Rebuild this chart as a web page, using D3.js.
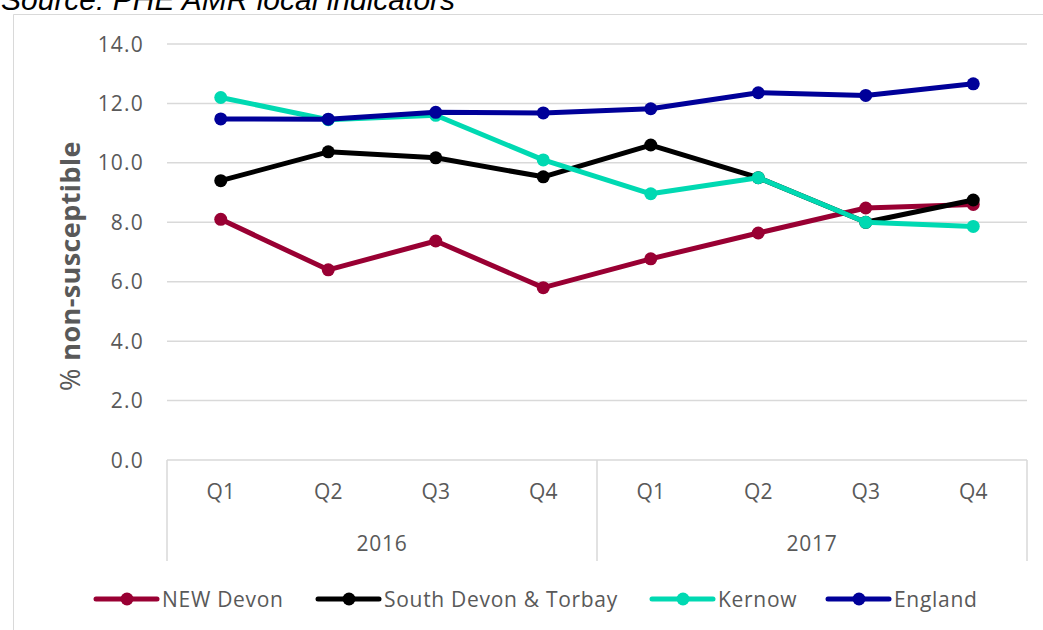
<!DOCTYPE html>
<html>
<head>
<meta charset="utf-8">
<script src="https://cdn.jsdelivr.net/npm/d3@7"></script>
<style>
  body { margin: 0; background: #fff; }
  svg { display: block; }
</style>
</head>
<body>
<svg id="chart" width="1043" height="630"></svg>
<script>
// quarters and years on the category axis
const quarters = ["Q1", "Q2", "Q3", "Q4", "Q1", "Q2", "Q3", "Q4"];
const years = ["2016", "2017"];
const yTicks = [0, 2, 4, 6, 8, 10, 12, 14];

// series values (% non-susceptible)
const newDevon = [8.1, 6.4, 7.37, 5.8, 6.77, 7.64, 8.48, 8.6];
const southDevon = [9.4, 10.37, 10.17, 9.53, 10.6, 9.5, 8.0, 8.75];
const kernow = [12.2, 11.45, 11.6, 10.1, 8.96, 9.5, 8.0, 7.86];
const england = [11.48, 11.47, 11.7, 11.68, 11.82, 12.36, 12.27, 12.66];

const seriesNames = ["NEW Devon", "South Devon & Torbay", "Kernow", "England"];
const seriesColors = ["#990033", "#000000", "#00d9b2", "#000099"];
const seriesValues = [newDevon, southDevon, kernow, england];

const svg = d3.select("#chart");
const font = "'Open Sans', 'Noto Sans', sans-serif";
const grey = "#595959";
const gridColor = "#d9d9d9";
const labelSize = 21;

const plot = { left: 167, right: 1027, top: 44, bottom: 460 };

const x = d3.scaleBand()
    .domain(d3.range(quarters.length))
    .range([plot.left, plot.right])
    .padding(0);

const y = d3.scaleLinear()
    .domain([0, 14])
    .range([plot.bottom, plot.top]);

// source note (cut off at top, as in the original)
svg.append("text")
    .attr("x", 1)
    .attr("y", 10)
    .attr("font-family", "Arial, 'Liberation Sans', sans-serif")
    .attr("font-size", 30)
    .attr("font-style", "italic")
    .attr("fill", "#000")
    .text("Source: PHE AMR local indicators");

// chart frame
svg.append("path")
    .attr("d", "M13.5,630 L13.5,14.5 L1043,14.5")
    .attr("fill", "none")
    .attr("stroke", gridColor)
    .attr("stroke-width", 1);

// gridlines
svg.append("g")
    .selectAll("line")
    .data(yTicks)
    .enter()
    .append("line")
    .attr("x1", plot.left)
    .attr("x2", plot.right)
    .attr("y1", d => y(d))
    .attr("y2", d => y(d))
    .attr("stroke", gridColor)
    .attr("stroke-width", 1.5);

// y tick labels
svg.append("g")
    .selectAll("text")
    .data(yTicks)
    .enter()
    .append("text")
    .attr("x", 144)
    .attr("y", d => y(d))
    .attr("dy", "0.36em")
    .attr("text-anchor", "end")
    .attr("font-family", font)
    .attr("font-size", labelSize)
    .attr("letter-spacing", 1.2)
    .attr("fill", grey)
    .text(d => d.toFixed(1));

// y axis title
const yTitle = svg.append("text")
    .attr("transform", `translate(80,${(plot.top + plot.bottom) / 2 + 14}) rotate(-90)`)
    .attr("text-anchor", "middle")
    .attr("font-family", font)
    .attr("font-size", 27)
    .attr("letter-spacing", 0.4)
    .attr("fill", grey);
yTitle.append("tspan").text("% ");
yTitle.append("tspan").attr("font-weight", "bold").text("non-susceptible");

// multi-level category axis separators
const yearEdges = [0, 4, 8].map(i => i < quarters.length ? x(i) : plot.right);
svg.append("g")
    .selectAll("line")
    .data(yearEdges)
    .enter()
    .append("line")
    .attr("x1", d => d)
    .attr("x2", d => d)
    .attr("y1", plot.bottom)
    .attr("y2", 561)
    .attr("stroke", gridColor)
    .attr("stroke-width", 1.5);

// quarter labels
svg.append("g")
    .selectAll("text")
    .data(quarters)
    .enter()
    .append("text")
    .attr("x", (d, i) => x(i) + x.bandwidth() / 2)
    .attr("y", 499)
    .attr("text-anchor", "middle")
    .attr("font-family", font)
    .attr("font-size", labelSize)
    .attr("fill", grey)
    .text(d => d);

// year labels
svg.append("g")
    .selectAll("text")
    .data(years)
    .enter()
    .append("text")
    .attr("x", (d, i) => (x(i * 4) + x(i * 4 + 3) + x.bandwidth()) / 2)
    .attr("y", 551)
    .attr("text-anchor", "middle")
    .attr("font-family", font)
    .attr("font-size", labelSize)
    .attr("letter-spacing", 0.8)
    .attr("fill", grey)
    .text(d => d);

// lines and markers
const line = d3.line()
    .x((d, i) => x(i) + x.bandwidth() / 2)
    .y(d => y(d));

seriesValues.forEach((values, s) => {
    const g = svg.append("g");
    g.append("path")
        .datum(values)
        .attr("d", line)
        .attr("fill", "none")
        .attr("stroke", seriesColors[s])
        .attr("stroke-width", 5)
        .attr("stroke-linejoin", "round");
    g.selectAll("circle")
        .data(values)
        .enter()
        .append("circle")
        .attr("cx", (d, i) => x(i) + x.bandwidth() / 2)
        .attr("cy", d => y(d))
        .attr("r", 6.5)
        .attr("fill", seriesColors[s]);
});

// legend
const legendX = [96, 318, 652, 828];
const legend = svg.append("g")
    .selectAll("g")
    .data(seriesNames)
    .enter()
    .append("g")
    .attr("transform", (d, i) => `translate(${legendX[i]},599)`);

legend.append("line")
    .attr("x1", 0)
    .attr("x2", 61)
    .attr("stroke", (d, i) => seriesColors[i])
    .attr("stroke-width", 5)
    .attr("stroke-linecap", "round");

legend.append("circle")
    .attr("cx", 31)
    .attr("r", 6.5)
    .attr("fill", (d, i) => seriesColors[i]);

legend.append("text")
    .attr("x", 66)
    .attr("dy", "0.36em")
    .attr("font-family", font)
    .attr("font-size", labelSize)
    .attr("letter-spacing", 0.7)
    .attr("fill", grey)
    .text(d => d);
</script>
</body>
</html>
